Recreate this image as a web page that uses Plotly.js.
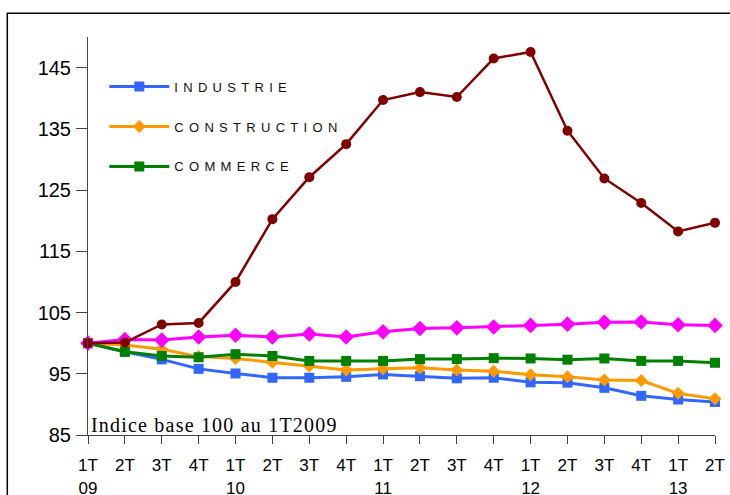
<!DOCTYPE html>
<html>
<head>
<meta charset="utf-8">
<script src="https://cdn.plot.ly/plotly-3.0.1.min.js"></script>
<style>
  html, body { margin: 0; padding: 0; background: #fff; }
  #chart { width: 730px; height: 495px; }
  .legendtext { letter-spacing: 5.3px; }
  .annotation-text { letter-spacing: 1.2px; }
</style>
</head>
<body>
<div id="chart"></div>
<script>
// Quarters (1T 2009 .. 2T 2013)
const quarters = ['1T','2T','3T','4T','1T','2T','3T','4T','1T','2T','3T','4T','1T','2T','3T','4T','1T','2T'];
const years    = ['09','','','','10','','','','11','','','','12','','','','13',''];

// Series values (index base 100 at 1T2009)
const industrie    = [100, 98.6, 97.35, 95.8, 95.05, 94.35, 94.35, 94.5, 94.9, 94.6, 94.25, 94.35, 93.6, 93.55, 92.7, 91.4, 90.8, 90.4];
const construction = [100, 99.7, 99.0, 97.8, 97.5, 96.9, 96.25, 95.6, 95.8, 96.0, 95.6, 95.4, 94.85, 94.5, 94.0, 93.9, 91.8, 90.9];
const commerce     = [100, 98.6, 97.9, 97.7, 98.2, 97.9, 97.1, 97.1, 97.1, 97.4, 97.4, 97.55, 97.5, 97.3, 97.5, 97.1, 97.1, 96.8];
const serieRose    = [100, 100.6, 100.5, 101.0, 101.3, 101.0, 101.5, 101.0, 101.85, 102.4, 102.5, 102.65, 102.9, 103.1, 103.4, 103.45, 103.0, 102.9];
const serieBordeaux= [100, 100.1, 103.05, 103.3, 110.0, 120.25, 127.1, 132.5, 139.7, 141.0, 140.2, 146.5, 147.55, 134.7, 126.9, 122.9, 118.25, 119.65];

const names = ['INDUSTRIE', 'CONSTRUCTION', 'COMMERCE'];
const note = 'Indice base 100 au 1T2009';

const xIdx = quarters.map((q, i) => i);
const tickText = quarters.map((q, i) => years[i] ? q + '<br>' + years[i] : q);

const traces = [
  { x: xIdx, y: industrie, name: names[0], legendgroup: 'g1', type: 'scatter', mode: 'lines+markers', cliponaxis: false,
    line: { color: '#3366FF', width: 3 }, marker: { symbol: 'square', size: 10, color: '#3366FF' } },
  { x: xIdx, y: construction, name: names[1], legendgroup: 'g2', type: 'scatter', mode: 'lines+markers', cliponaxis: false,
    line: { color: '#FF9900', width: 3 }, marker: { symbol: 'diamond', size: 10, color: '#FF9900' } },
  { x: xIdx, y: commerce, name: names[2], legendgroup: 'g3', type: 'scatter', mode: 'lines+markers', cliponaxis: false,
    line: { color: '#008000', width: 3 }, marker: { symbol: 'square', size: 10, color: '#008000' } },
  { x: xIdx, y: serieRose, name: 'rose', showlegend: false, type: 'scatter', mode: 'lines+markers', cliponaxis: false,
    line: { color: '#FF00FF', width: 3 }, marker: { symbol: 'diamond', size: 12, color: '#FF00FF' } },
  { x: xIdx, y: serieBordeaux, name: 'bordeaux', showlegend: false, type: 'scatter', mode: 'lines+markers', cliponaxis: false,
    line: { color: '#800000', width: 2.5 }, marker: { symbol: 'circle', size: 10, color: '#800000' } }
];

const layout = {
  width: 730, height: 495,
  margin: { l: 88, r: 15, t: 37, b: 60 },
  paper_bgcolor: '#fff', plot_bgcolor: '#fff',
  showlegend: true,
  font: { family: 'Liberation Sans, Arial, sans-serif', color: '#000' },
  xaxis: {
    range: [0, 17], tickvals: xIdx, ticktext: tickText,
    showgrid: false, zeroline: false,
    showline: true, linecolor: '#444', linewidth: 1,
    ticks: 'outside', ticklen: 8, tickcolor: '#444', tickwidth: 1,
    tickfont: { size: 17, color: '#000' }, tickangle: 0, ticklabelstandoff: 7
  },
  yaxis: {
    range: [85, 150], tick0: 85, dtick: 10,
    showgrid: false, zeroline: false,
    showline: true, linecolor: '#444', linewidth: 1,
    ticks: 'outside', ticklen: 11, tickcolor: '#444', tickwidth: 1,
    tickfont: { size: 20, color: '#000' }, ticklabelstandoff: 1
  },
  legend: {
    x: 0.026, y: 0.913, xanchor: 'left', yanchor: 'top',
    bgcolor: 'rgba(0,0,0,0)', borderwidth: 0,
    font: { size: 13, color: '#111', family: 'Liberation Sans, Arial, sans-serif' },
    itemwidth: 60, tracegroupgap: 20, traceorder: 'grouped'
  },
  annotations: [{
    text: note, xref: 'paper', yref: 'paper', x: 0.002, y: -0.008, xanchor: 'left', yanchor: 'bottom',
    showarrow: false, font: { family: 'Liberation Serif, Times New Roman, serif', size: 20, color: '#000' }
  }],
  shapes: [{
    type: 'rect', xref: 'paper', yref: 'paper',
    x0: -0.1287, x1: 1.05, y0: -0.2, y1: 1.0595,
    line: { color: '#000', width: 1.5 }, fillcolor: 'rgba(0,0,0,0)', layer: 'above'
  }]
};

Plotly.newPlot('chart', traces, layout, { displayModeBar: false, staticPlot: true });
</script>
</body>
</html>
